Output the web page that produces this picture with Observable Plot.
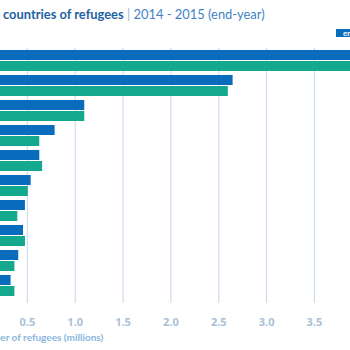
<!DOCTYPE html>
<html><head><meta charset="utf-8">
<script src="https://cdn.jsdelivr.net/npm/d3@7"></script>
<script src="https://cdn.jsdelivr.net/npm/@observablehq/plot@0.6"></script>
<style>
body{margin:0;background:#fff;}
#wrap{position:relative;width:350px;height:350px;overflow:hidden;font-family:Lato,"Open Sans",sans-serif;background:#fff;}
#chart{position:absolute;left:-21px;top:0;width:420px;height:350px;z-index:1;}
#title{position:absolute;top:5px;left:0;white-space:nowrap;font-size:12.9px;line-height:18px;z-index:2;}
#title .tb{font-weight:bold;color:#1f62a3;}
#title .bar{color:#9db6cf;font-weight:normal;}
#title .tr{color:#3f83c4;}
#legend{position:absolute;left:336px;top:29px;white-space:nowrap;z-index:2;font-size:8px;line-height:8px;font-weight:bold;color:#fff;}
#legend span{display:inline-block;padding:0 6px 0 7px;margin-right:4px;}
#xlabel{position:absolute;top:332px;left:0;white-space:nowrap;font-size:10px;line-height:11px;font-weight:bold;color:#8ab6de;z-index:2;}
</style></head><body>
<div id="wrap">
  <div id="chart"></div>
  <div id="title"><span class="tb">Major source <span id="ta">countries of refugees</span></span><span class="bar"> | </span><span class="tr">2014 - 2015 (end-year)</span></div>
  <div id="legend"><span id="k15">end-2015</span><span id="k14">end-2014</span></div>
  <div id="xlabel">Numb<span id="xa">er of refugees (millions)</span></div>
</div>
<script>
const countries = ["Syrian Arab Rep.","Afghanistan","Somalia","South Sudan","Sudan","Dem. Rep. of the Congo","Central African Rep.","Myanmar","Eritrea","Colombia"];
const end2015 = [4.87, 2.65, 1.10, 0.79, 0.63, 0.54, 0.48, 0.46, 0.41, 0.33];
const end2014 = [3.88, 2.60, 1.10, 0.63, 0.66, 0.51, 0.40, 0.48, 0.37, 0.37];
const xTicks = [0.5, 1.0, 1.5, 2.0, 2.5, 3.0, 3.5];

const C15 = "#0a6cbc", C14 = "#14a88e", GRID = "#c3d8ec";

const rows15 = countries.map((c, i) => ({country: c, value: end2015[i]}));
const rows14 = countries.map((c, i) => ({country: c, value: end2014[i]}));

const chart = Plot.plot({
  width: 420,
  height: 350,
  marginLeft: 0,
  marginRight: 0,
  marginTop: 48,
  marginBottom: 53,
  style: {background: "transparent", maxWidth: "none", overflow: "visible"},
  x: {domain: [0, 420 / 95.7]},
  y: {domain: countries, paddingInner: 0.167, paddingOuter: 0, axis: null},
  marks: [
    Plot.ruleX(xTicks, {stroke: GRID, strokeWidth: 1}),
    Plot.barX(rows15, {y: "country", x: "value", fill: C15, insetBottom: 11}),
    Plot.barX(rows14, {y: "country", x: "value", fill: C14, insetTop: 11}),
    Plot.axisX(xTicks, {anchor: "bottom", tickSize: 6, tickPadding: 15, tickFormat: d3.format(".1f"),
      stroke: GRID, fill: "#a9c0d8", fontSize: 11, fontWeight: "bold", label: null})
  ]
});
document.getElementById("chart").appendChild(chart);
document.getElementById("k15").style.background = C15;
document.getElementById("k14").style.background = C14;

const ta = document.getElementById("ta");
document.getElementById("title").style.left = (3 - ta.offsetLeft) + "px";
const xa = document.getElementById("xa");
document.getElementById("xlabel").style.left = (0 - xa.offsetLeft) + "px";
</script>
</body></html>
